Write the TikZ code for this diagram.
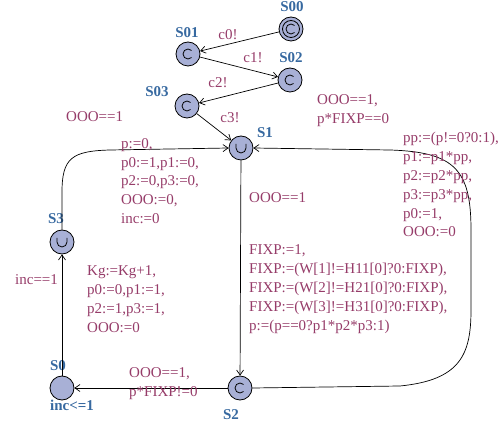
\documentclass[tikz,border=0pt]{standalone}
\usepackage{fontspec}
\setmainfont{Liberation Serif}
\usetikzlibrary{arrows.meta}
\definecolor{txtc}{RGB}{150,60,105}
\definecolor{lblc}{RGB}{55,105,160}
\definecolor{fillc}{RGB}{168,176,214}
\tikzset{
  x=1pt,y=-1pt,
  loc/.style={circle,draw=black,fill=fillc,line width=0.8pt,minimum size=24pt,inner sep=0pt},
  lname/.style={text=lblc,font=\fontsize{15}{18}\selectfont\bfseries,inner sep=0pt},
  lab/.style={text=txtc,font=\fontsize{15}{18.8}\selectfont,inner sep=0pt,align=left},
  edge/.style={draw=black,line width=0.7pt,-{Straight Barb[length=5pt,width=7pt]}},
  sym/.style={line width=0.8pt}
}
\begin{document}
\begin{tikzpicture}
\useasboundingbox (0,0) rectangle (503,427);
% locations
\node[loc] (S00) at (291,29) {};
\node[loc] (S01) at (188,54) {};
\node[loc] (S02) at (290,80) {};
\node[loc] (S03) at (187,106) {};
\node[loc] (S1) at (241,148) {};
\node[loc] (S3) at (62,242) {};
\node[loc] (S0) at (62,388) {};
\node[loc] (S2) at (240,388) {};
% symbols
\draw[line width=0.8pt] (S00) circle (8.5pt);
\foreach \n in {S00,S01,S02,S03,S2}{
  \draw[sym] (\n.center) ++(45:5pt) arc (45:315:5pt);
}
\foreach \n in {S1,S3}{
  \draw[sym] (\n.center) ++(-5,-4) -- ++(0,4) arc (180:360:5pt) -- ++(0,-4);
}
% names
\node[lname] (nS00) at (292,7) {S00};
\node[lname] (nS01) at (187,33) {S01};
\node[lname] (nS02) at (291,58) {S02};
\node[lname] (nS03) at (157,92) {S03};
\node[lname] (nS1) at (265,133) {S1};
\node[lname] (nS3) at (56,219) {S3};
\node[lname] (nS0) at (58,366) {S0};
\node[lname] (nS2) at (231,415) {S2};
\node[lname] (inv0) at (72,405) {inc<=1};
% edges
\draw[edge] (S00) -- (S01);
\draw[edge] (S01) -- (S02);
\draw[edge] (S02) -- (S03);
\draw[edge] (S03) -- (S1);
\draw[edge] (S1) -- (S2);
\draw[edge] (S2) -- (S0);
\draw[edge] (S0) -- (S3);
\draw[edge] (S3.north) -- (62,192) .. controls (62,158) and (72,151) .. (110,150) -- (S1.west);
\draw[edge] (S2.east) -- (400,386) .. controls (460,380) and (471,355) .. (471,310) -- (471,230) .. controls (471,170) and (455,152) .. (390,150) -- (S1.east);
% labels
\node[lab] (c0) at (228,35) {c0!};
\node[lab] (c1) at (253,58) {c1!};
\node[lab] (c2) at (218,83) {c2!};
\node[lab] (c3) at (230,118) {c3!};
\node[lab,anchor=west] (g31) at (66,117) {OOO==1};
\node[lab,anchor=north west] (u31) at (121,135) {\strut p:=0,\\p0:=1,p1:=0,\\p2:=0,p3:=0,\\OOO:=0,\\inc:=0};
\node[lab,anchor=west] (g12) at (249,198) {OOO==1};
\node[lab,anchor=north west] (u12) at (249,241.5) {\strut FIXP:=1,\\FIXP:=(W[1]!=H11[0]?0:FIXP),\\FIXP:=(W[2]!=H21[0]?0:FIXP),\\FIXP:=(W[3]!=H31[0]?0:FIXP),\\p:=(p==0?p1*p2*p3:1)};
\node[lab,anchor=north west] (g21) at (317,91.5) {\strut OOO==1,\\p*FIXP==0};
\node[lab,anchor=north west] (u21) at (403,129.5) {\strut pp:=(p!=0?0:1),\\p1:=p1*pp,\\p2:=p2*pp,\\p3:=p3*pp,\\p0:=1,\\OOO:=0};
\node[lab,anchor=north west] (u20) at (87,262.5) {\strut Kg:=Kg+1,\\p0:=0,p1:=1,\\p2:=1,p3:=1,\\OOO:=0};
\node[lab,anchor=north west] (g20) at (129,364.5) {\strut OOO==1,\\p*FIXP!=0};
\node[lab,anchor=west] (g03) at (15,280) {inc==1};
\end{tikzpicture}
\end{document}
